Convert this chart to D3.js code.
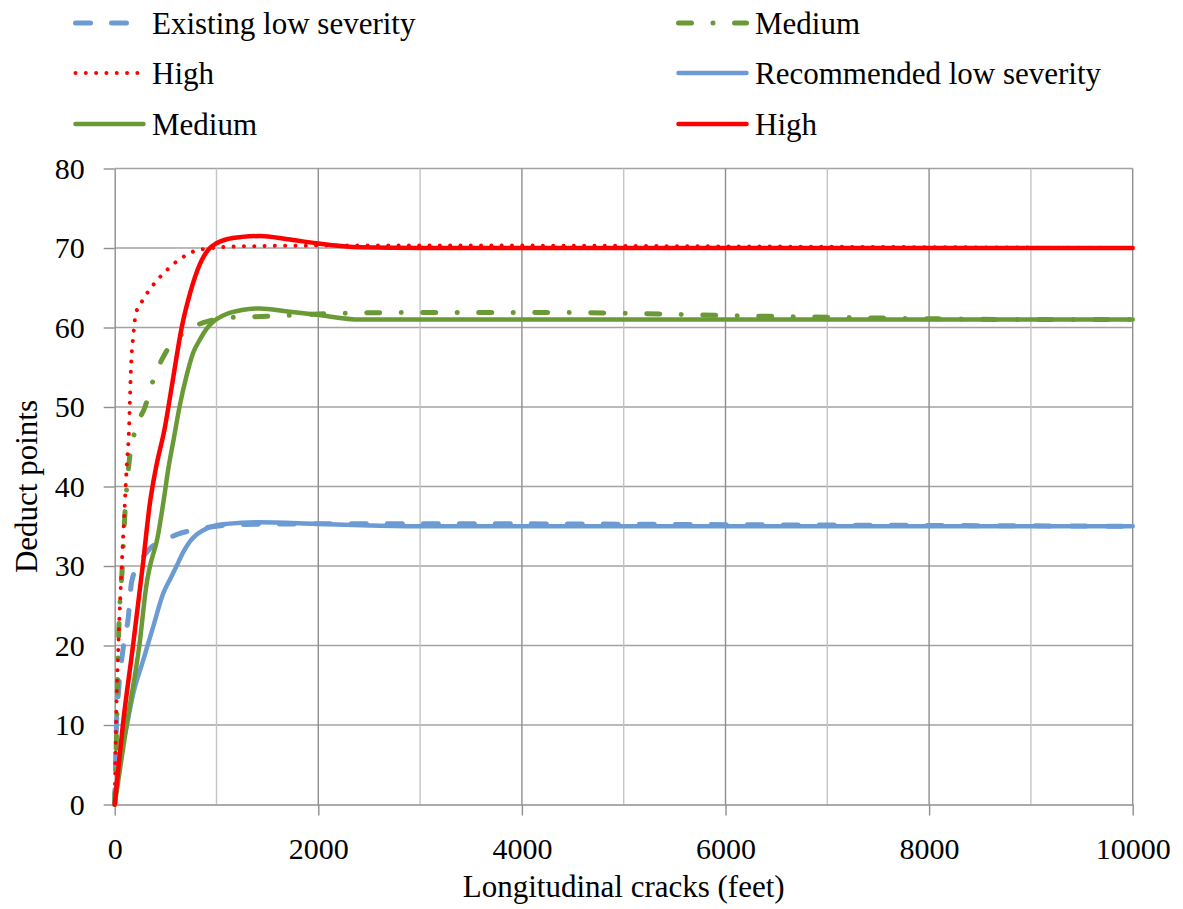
<!DOCTYPE html>
<html>
<head>
<meta charset="utf-8">
<script src="https://cdn.jsdelivr.net/npm/d3@7"></script>
<style>
  body { margin: 0; background: #fff; font-family: "Liberation Serif"; }
  svg { display: block; }
  svg text { font-family: "Liberation Serif"; fill: #000; }
</style>
</head>
<body>
<svg id="chart" width="1183" height="909"></svg>
<script>
// Deduct points vs. longitudinal crack length, [feet, deduct points]
const existingLow = [[0,0],[19,10.6],[36,14],[85,19.8],[134,23.6],[166,28],[250,30.5],[347,32.2],[480,33.2],[620,34],[800,34.6],[937,34.9],[1200,35.2],[2000,35.3],[4000,35.3],[6000,35.2],[8000,35.1],[10000,35]];
const existingMedium = [[0,0],[20,10],[36,20],[75,30],[101,36.7],[141,43],[199,47],[298,50],[379,53.4],[494,56.7],[674,59.3],[870,60.6],[1198,61.3],[1493,61.4],[2000,61.7],[3000,61.9],[4000,61.9],[5000,61.8],[6000,61.5],[7000,61.3],[8000,61.1],[9000,61],[10000,61]];
const existingHigh = [[0,0],[13,10],[36,20],[69,30],[100,38],[120,43],[140,47],[150,51],[160,55],[183,59],[209,61.8],[265,63.2],[363,65.1],[494,67],[641,68.6],[838,69.8],[1231,70.2],[2000,70.3],[4000,70.3],[6000,70.2],[8000,70.1],[10000,70]];
const recommendedLow = [[0,0],[52,5.6],[117,9.8],[183,14],[281,18.2],[379,22.4],[478,26.6],[550,28.5],[608,30],[680,31.9],[740,33.1],[800,33.9],[870,34.5],[937,34.9],[1100,35.3],[1400,35.5],[1983,35.3],[2500,35.1],[3000,35],[10000,35]];
const recommendedMedium = [[0,0],[117,10],[242,20],[314,27.8],[347,30],[420,33.5],[478,38],[530,42.5],[580,46],[641,50.3],[707,54],[770,56.8],[838,58.5],[900,59.8],[985,60.9],[1100,61.7],[1250,62.2],[1427,62.4],[1700,62],[1983,61.6],[2410,61],[3000,61],[10000,61]];
const recommendedHigh = [[0,0],[80,10],[180,20],[275,30],[347,38],[400,42],[494,47.5],[576,53.8],[658,60],[740,64.3],[838,68],[920,69.8],[1000,70.6],[1100,71.1],[1250,71.4],[1427,71.5],[1700,71.1],[1983,70.6],[2410,70.1],[3000,70],[10000,70]];

const xTicks = [0, 2000, 4000, 6000, 8000, 10000];
const xGrid = [1000, 2000, 3000, 4000, 5000, 6000, 7000, 8000, 9000, 10000];
const yTicks = [0, 10, 20, 30, 40, 50, 60, 70, 80];

const series = [
  { name: "Existing low severity", data: existingLow, color: "#6b9bd2", width: 5, dash: "15 21", cap: "round" },
  { name: "Medium", data: existingMedium, color: "#6a9a36", width: 5, dash: "13 21.5 0.01 21.5", cap: "round" },
  { name: "High", data: existingHigh, color: "#ff0000", width: 4, dash: "0.01 10.3", cap: "round" },
  { name: "Recommended low severity", data: recommendedLow, color: "#6b9bd2", width: 4.5, dash: null, cap: "round" },
  { name: "Medium", data: recommendedMedium, color: "#6a9a36", width: 4.5, dash: null, cap: "round" },
  { name: "High", data: recommendedHigh, color: "#ff0000", width: 4.5, dash: null, cap: "round" }
];

const serif = "Liberation Serif";

const svg = d3.select("#chart");
svg.append("rect").attr("width", 1183).attr("height", 909).attr("fill", "#fff");

const x = d3.scaleLinear().domain([0, 10000]).range([114.7, 1132.7]);
const y = d3.scaleLinear().domain([0, 80]).range([804.5, 168.5]);

// gridlines
const grid = svg.append("g");
grid.selectAll("line.h").data(yTicks.filter(d => d > 0)).join("line")
  .attr("x1", x(0)).attr("x2", x(10000))
  .attr("y1", d => y(d)).attr("y2", d => y(d))
  .attr("stroke", "#a3a3a3").attr("stroke-width", 1.4);
grid.selectAll("line.v").data(xGrid).join("line")
  .attr("x1", d => x(d)).attr("x2", d => x(d))
  .attr("y1", y(0)).attr("y2", y(80))
  .attr("stroke", d => d % 2000 === 0 ? "#8e8e8e" : "#c4c4c4")
  .attr("stroke-width", 1.4);

// axes
const yAxis = svg.append("g").attr("transform", `translate(${x(0)},0)`)
  .call(d3.axisLeft(y).tickValues(yTicks).tickSize(11).tickSizeOuter(0).tickPadding(19).tickFormat(d3.format("d")));
const xAxis = svg.append("g").attr("transform", `translate(0,${y(0)})`)
  .call(d3.axisBottom(x).tickValues(xTicks).tickSize(11).tickSizeOuter(0).tickPadding(22.5).tickFormat(d3.format("d")));
[yAxis, xAxis].forEach(a => {
  a.attr("font-family", serif).attr("font-size", 30);
  a.select(".domain").attr("stroke", "#8e8e8e").attr("stroke-width", 1.4);
  a.selectAll(".tick line").attr("stroke", "#8e8e8e").attr("stroke-width", 1.4);
  a.selectAll(".tick text").attr("fill", "#000");
});

// series lines
const line = d3.line().x(d => x(d[0])).y(d => y(d[1])).curve(d3.curveMonotoneX);
svg.append("g").selectAll("path").data(series).join("path")
  .attr("d", d => line(d.data))
  .attr("fill", "none")
  .attr("stroke", d => d.color)
  .attr("stroke-width", d => d.width)
  .attr("stroke-dasharray", d => d.dash)
  .attr("stroke-linecap", d => d.cap)
  .attr("stroke-linejoin", "round");

// axis titles
svg.append("text")
  .attr("x", (x(0) + x(10000)) / 2).attr("y", 897)
  .attr("text-anchor", "middle").attr("font-family", serif).attr("font-size", 31)
  .text("Longitudinal cracks (feet)");
svg.append("text")
  .attr("transform", `translate(37,${(y(0) + y(80)) / 2}) rotate(-90)`)
  .attr("text-anchor", "middle").attr("font-family", serif).attr("font-size", 31)
  .text("Deduct points");

// legend, two columns filled row by row
const legendCols = [75.5, 678.5];
const legendRows = [23, 73, 124];
const legend = svg.append("g").selectAll("g").data(series).join("g")
  .attr("transform", (d, i) => `translate(${legendCols[i % 2]},${legendRows[Math.floor(i / 2)]})`);
legend.append("line")
  .attr("x1", 0).attr("x2", d => d.dash && d.dash.startsWith("0.01") ? 64 : 68)
  .attr("y1", 0).attr("y2", 0)
  .attr("stroke", d => d.color)
  .attr("stroke-width", d => d.width)
  .attr("stroke-dasharray", d => d.dash)
  .attr("stroke-linecap", d => d.cap);
legend.append("text")
  .attr("x", 76.5).attr("y", 10.5)
  .attr("font-family", serif).attr("font-size", 31)
  .text(d => d.name);
</script>
</body>
</html>
